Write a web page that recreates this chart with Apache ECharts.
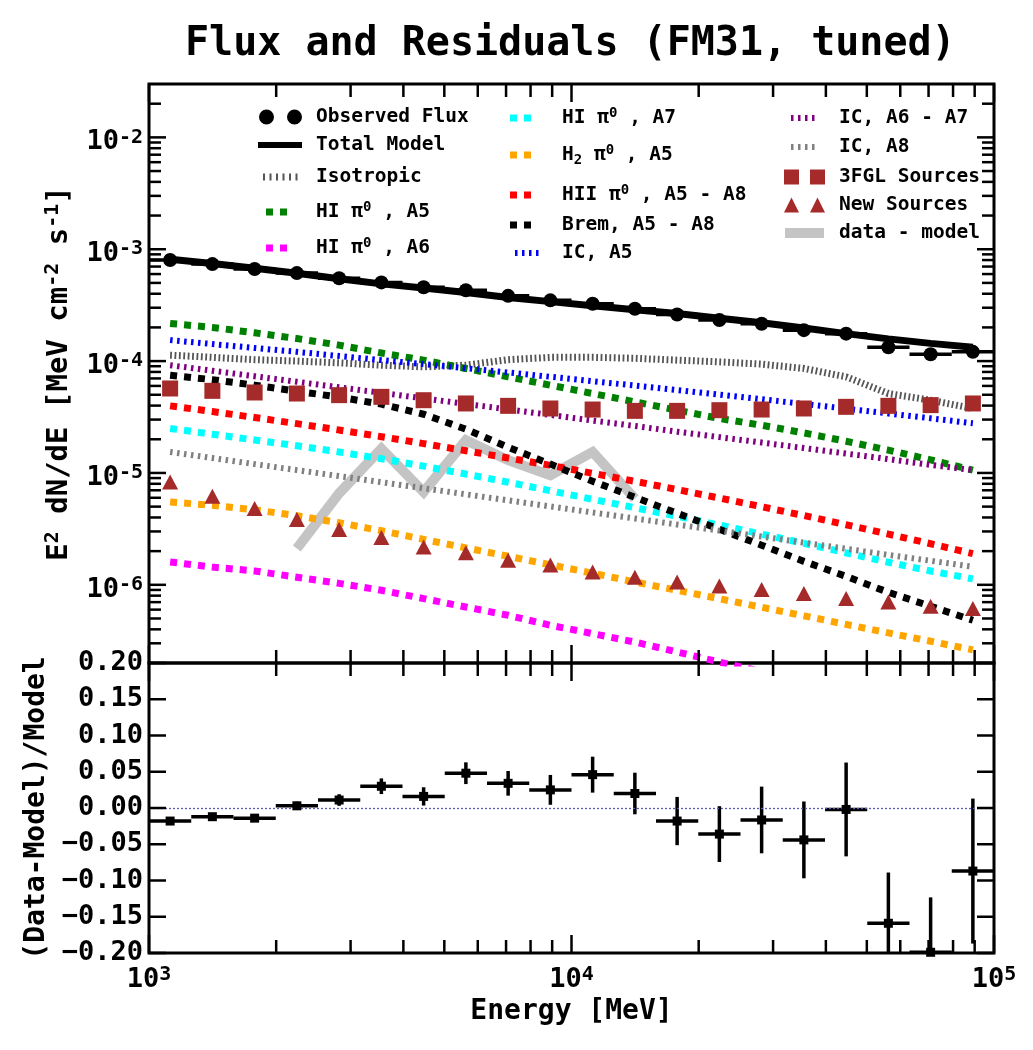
<!DOCTYPE html>
<html><head><meta charset="utf-8">
<script src="https://cdn.jsdelivr.net/npm/echarts@6/dist/echarts.min.js"></script>
<style>html,body{margin:0;padding:0;background:#fff}#c{width:1033px;height:1050px}</style>
</head><body><div id="c"></div>
<script>
// ---------------- data ----------------
const energies = [1122, 1412.5, 1778.3, 2238.7, 2818.4, 3548.1, 4466.8, 5623.4, 7079.5, 8912.5,
  11220, 14125, 17783, 22387, 28184, 35481, 44668, 56234, 70795, 89125];
const binEdges = [1000, 1258.9, 1584.9, 1995.3, 2511.9, 3162.3, 3981.1, 5011.9, 6309.6, 7943.3, 10000,
  12589, 15849, 19953, 25119, 31623, 39811, 50119, 63096, 79433, 100000];
const observedFlux = [8.00e-4, 7.36e-4, 6.66e-4, 6.12e-4, 5.51e-4, 5.05e-4, 4.57e-4, 4.30e-4, 3.83e-4, 3.49e-4,
  3.26e-4, 2.94e-4, 2.61e-4, 2.33e-4, 2.16e-4, 1.89e-4, 1.76e-4, 1.33e-4, 1.15e-4, 1.21e-4];
const observedFluxErr = [2.4e-6, 2.2e-6, 2.0e-6, 3.5e-6, 4.4e-6, 5.3e-6, 5.7e-6, 6.2e-6, 6.3e-6, 7.0e-6,
  7.7e-6, 8.3e-6, 8.9e-6, 9.3e-6, 1.0e-5, 1.05e-5, 1.14e-5, 1.1e-5, 1.09e-5, 1.33e-5];
const totalModel = [8.15e-4, 7.45e-4, 6.75e-4, 6.10e-4, 5.45e-4, 4.90e-4, 4.50e-4, 4.10e-4, 3.70e-4, 3.40e-4,
  3.12e-4, 2.88e-4, 2.66e-4, 2.42e-4, 2.20e-4, 1.98e-4, 1.76e-4, 1.58e-4, 1.44e-4, 1.33e-4];
const isotropic = [1.13e-4, 1.08e-4, 1.03e-4, 1.00e-4, 9.64e-5, 9.19e-5, 8.88e-5, 9.19e-5, 1.03e-4, 1.08e-4,
  1.08e-4, 1.06e-4, 1.02e-4, 9.84e-5, 9.39e-5, 8.59e-5, 7.23e-5, 5.13e-5, 4.47e-5, 3.77e-5];
const hiA5 = [2.17e-4, 2.00e-4, 1.79e-4, 1.59e-4, 1.39e-4, 1.18e-4, 1.02e-4, 8.59e-5, 7.23e-5, 6.09e-5,
  5.13e-5, 4.32e-5, 3.64e-5, 3.07e-5, 2.67e-5, 2.28e-5, 1.92e-5, 1.60e-5, 1.31e-5, 1.06e-5];
const hiA6 = [1.60e-6, 1.44e-6, 1.33e-6, 1.17e-6, 1.03e-6, 8.93e-7, 7.53e-7, 6.33e-7, 5.34e-7, 4.35e-7,
  3.66e-7, 3.08e-7, 2.51e-7, 2.04e-7, 1.68e-7];
const hiA7 = [2.50e-5, 2.22e-5, 1.97e-5, 1.75e-5, 1.54e-5, 1.34e-5, 1.15e-5, 9.78e-6, 8.26e-6, 6.93e-6,
  5.82e-6, 4.89e-6, 4.10e-6, 3.42e-6, 2.84e-6, 2.35e-6, 1.93e-6, 1.59e-6, 1.33e-6, 1.13e-6];
const h2A5 = [5.50e-6, 5.14e-6, 4.69e-6, 4.14e-6, 3.59e-6, 3.04e-6, 2.55e-6, 2.14e-6, 1.80e-6, 1.51e-6,
  1.27e-6, 1.06e-6, 8.93e-7, 7.50e-7, 6.30e-7, 5.28e-7, 4.43e-7, 3.72e-7, 3.13e-7, 2.62e-7];
const hiiA5A8 = [3.98e-5, 3.54e-5, 3.13e-5, 2.76e-5, 2.42e-5, 2.11e-5, 1.83e-5, 1.58e-5, 1.36e-5, 1.17e-5,
  9.93e-6, 8.42e-6, 7.11e-6, 5.97e-6, 4.99e-6, 4.16e-6, 3.44e-6, 2.84e-6, 2.33e-6, 1.90e-6];
const bremA5A8 = [7.48e-5, 6.82e-5, 6.09e-5, 5.38e-5, 4.76e-5, 4.12e-5, 3.35e-5, 2.46e-5, 1.70e-5, 1.20e-5,
  8.43e-6, 6.06e-6, 4.36e-6, 3.14e-6, 2.26e-6, 1.62e-6, 1.19e-6, 8.57e-7, 6.43e-7, 4.82e-7];
const icA5 = [1.54e-4, 1.42e-4, 1.31e-4, 1.21e-4, 1.11e-4, 1.02e-4, 9.41e-5, 8.63e-5, 7.91e-5, 7.24e-5,
  6.61e-5, 6.04e-5, 5.50e-5, 5.01e-5, 4.56e-5, 4.14e-5, 3.75e-5, 3.40e-5, 3.08e-5, 2.78e-5];
const icA6A7 = [9.19e-5, 8.20e-5, 7.32e-5, 6.53e-5, 5.83e-5, 5.20e-5, 4.64e-5, 4.14e-5, 3.70e-5, 3.30e-5,
  2.94e-5, 2.63e-5, 2.34e-5, 2.09e-5, 1.87e-5, 1.67e-5, 1.49e-5, 1.33e-5, 1.18e-5, 1.06e-5];
const icA8 = [1.54e-5, 1.36e-5, 1.20e-5, 1.06e-5, 9.37e-6, 8.27e-6, 7.30e-6, 6.44e-6, 5.69e-6, 5.02e-6,
  4.43e-6, 3.92e-6, 3.46e-6, 3.05e-6, 2.70e-6, 2.38e-6, 2.10e-6, 1.85e-6, 1.64e-6, 1.45e-6];
const fgl3Sources = [5.69e-5, 5.42e-5, 5.24e-5, 5.13e-5, 4.96e-5, 4.79e-5, 4.47e-5, 4.18e-5, 3.98e-5, 3.77e-5,
  3.69e-5, 3.59e-5, 3.59e-5, 3.64e-5, 3.69e-5, 3.77e-5, 3.90e-5, 3.98e-5, 4.04e-5, 4.18e-5];
const newSources = [8.31e-6, 6.19e-6, 4.81e-6, 3.83e-6, 3.12e-6, 2.65e-6, 2.18e-6, 1.93e-6, 1.66e-6, 1.50e-6,
  1.30e-6, 1.17e-6, 1.06e-6, 9.76e-7, 9.06e-7, 8.35e-7, 7.53e-7, 7.02e-7, 6.43e-7, 6.13e-7];
const dataMinusModelEnergies = [2238.7, 2818.4, 3548.1, 4466.8, 5623.4, 7079.5, 8912.5, 11220, 14125];
const dataMinusModel = [2.11e-6, 6.58e-6, 1.65e-5, 6.77e-6, 1.96e-5, 1.30e-5, 9.54e-6, 1.54e-5, 5.90e-6];
const residuals = [-0.018, -0.012, -0.014, 0.003, 0.011, 0.030, 0.016, 0.048, 0.034, 0.025,
  0.046, 0.020, -0.018, -0.036, -0.0165, -0.044, -0.002, -0.159, -0.199, -0.087];
const residualErr = [0.003, 0.003, 0.003, 0.0057, 0.008, 0.0108, 0.0126, 0.015, 0.017, 0.0206,
  0.0248, 0.0287, 0.0333, 0.0385, 0.046, 0.053, 0.0647, 0.070, 0.0757, 0.100];
const xMajorTicks = [1e3, 1e4, 1e5];
const xMinorTicks = [2e3, 3e3, 4e3, 5e3, 6e3, 7e3, 8e3, 9e3, 2e4, 3e4, 4e4, 5e4, 6e4, 7e4, 8e4, 9e4];
const yTopMajorTicks = [1e-6, 1e-5, 1e-4, 1e-3, 1e-2];
const yTopMinorTicks = [3e-7, 4e-7, 5e-7, 6e-7, 7e-7, 8e-7, 9e-7, 2e-6, 3e-6, 4e-6, 5e-6, 6e-6, 7e-6, 8e-6, 9e-6,
  2e-5, 3e-5, 4e-5, 5e-5, 6e-5, 7e-5, 8e-5, 9e-5, 2e-4, 3e-4, 4e-4, 5e-4, 6e-4, 7e-4, 8e-4, 9e-4,
  2e-3, 3e-3, 4e-3, 5e-3, 6e-3, 7e-3, 8e-3, 9e-3, 2e-2];
const yResidTicks = [-0.2, -0.15, -0.1, -0.05, 0, 0.05, 0.1, 0.15, 0.2];

// ---------------- chart ----------------
const FONT = '"DejaVu Sans Mono", monospace';
const chart = echarts.init(document.getElementById('c'), null, {renderer: 'canvas'});
const pairs = (xs, ys) => ys.map((y, i) => [xs[i], y]);

function powLabel(v) {
  const e = Math.log10(v);
  if (Math.abs(e - Math.round(e)) > 1e-6) return '';
  return '10{s|' + Math.round(e) + '}';
}
const supRich = (fs, lh) => ({s: {fontSize: fs, fontWeight: 'bold', fontFamily: FONT, color: '#000', verticalAlign: 'top', lineHeight: lh}});

function tickRender(params, api) {
  const cs = params.coordSys;
  const kind = api.value(2);
  const p = api.coord([api.value(0), api.value(1)]);
  const st = {stroke: '#000', lineWidth: 2.5};
  if (kind < 2) {
    const L = kind === 0 ? 18 : 13;
    const yb = cs.y + cs.height, yt = cs.y;
    return {type: 'group', children: [
      {type: 'line', shape: {x1: p[0], y1: yb, x2: p[0], y2: yb - L}, style: st},
      {type: 'line', shape: {x1: p[0], y1: yt, x2: p[0], y2: yt + L}, style: st}]};
  }
  const L = kind === 2 ? 17 : 12;
  return {type: 'group', children: [
    {type: 'line', shape: {x1: cs.x, y1: p[1], x2: cs.x + L, y2: p[1]}, style: st},
    {type: 'line', shape: {x1: cs.x + cs.width, y1: p[1], x2: cs.x + cs.width - L, y2: p[1]}, style: st}]};
}

function errRender(params, api) {
  const x = api.value(0), y = api.value(1);
  const pL = api.coord([api.value(2), y]), pH = api.coord([api.value(3), y]);
  const pB = api.coord([x, api.value(4)]), pT = api.coord([x, api.value(5)]);
  const st = {stroke: '#000', lineWidth: 3.5};
  return {type: 'group', children: [
    {type: 'line', shape: {x1: pL[0], y1: pL[1], x2: pH[0], y2: pH[1]}, style: st},
    {type: 'line', shape: {x1: pB[0], y1: pB[1], x2: pT[0], y2: pT[1]}, style: st}]};
}

function comp(name, vals, color, width, dash, z) {
  return {type: 'line', name, xAxisIndex: 0, yAxisIndex: 0, data: pairs(energies, vals), symbol: 'none',
    z, silent: true, clip: true, emphasis: {disabled: true},
    lineStyle: {color, width, type: dash, cap: 'butt', join: 'miter'}, itemStyle: {color, opacity: 1}};
}
const PI0 = [7, 7], IC = [2.5, 4.5], ISO = [1.8, 2.6];
const BROWN = '#a52a2a';

const series = [
  comp('Isotropic', isotropic, '#555555', 7, ISO, 2),
  comp('HI π0, A5', hiA5, '#008000', 7, PI0, 2),
  comp('HI π0, A6', hiA6, '#ff00ff', 7, PI0, 2),
  comp('HI π0, A7', hiA7, '#00ffff', 7, PI0, 2),
  comp('H2 π0, A5', h2A5, '#ffa500', 7, PI0, 2),
  comp('HII π0, A5 - A8', hiiA5A8, '#ff0000', 7, PI0, 2),
  comp('Brem, A5 - A8', bremA5A8, '#000000', 7, PI0, 2),
  comp('IC, A5', icA5, '#0000ff', 6, IC, 2),
  comp('IC, A6 - A7', icA6A7, '#800080', 6, IC, 2),
  comp('IC, A8', icA8, '#808080', 6, IC, 2),
  {type: 'line', name: 'data - model', xAxisIndex: 0, yAxisIndex: 0, data: pairs(dataMinusModelEnergies, dataMinusModel),
    symbol: 'none', z: 1.5, silent: true, emphasis: {disabled: true},
    lineStyle: {color: '#c4c4c4', width: 10, join: 'miter'}, itemStyle: {color: '#c4c4c4', opacity: 1}},
  {type: 'scatter', name: '3FGL Sources', xAxisIndex: 0, yAxisIndex: 0, data: pairs(energies, fgl3Sources),
    symbol: 'rect', symbolSize: [16, 16], z: 3, silent: true, itemStyle: {color: BROWN, opacity: 1}},
  {type: 'scatter', name: 'New Sources', xAxisIndex: 0, yAxisIndex: 0, data: pairs(energies, newSources),
    symbol: 'triangle', symbolSize: [16, 15], z: 3, silent: true, itemStyle: {color: BROWN, opacity: 1}},
  {type: 'line', name: 'Total Model', xAxisIndex: 0, yAxisIndex: 0, data: pairs(energies, totalModel),
    symbol: 'none', z: 4, silent: true, emphasis: {disabled: true},
    lineStyle: {color: '#000', width: 7}, itemStyle: {color: '#000', opacity: 1}},
  {type: 'custom', name: 'flux errors', xAxisIndex: 0, yAxisIndex: 0, z: 4, silent: true, clip: true,
    renderItem: errRender, encode: {x: [0, 2, 3], y: [1, 4, 5]},
    data: observedFlux.map((f, i) => [energies[i], f, binEdges[i], binEdges[i + 1], f - observedFluxErr[i], f + observedFluxErr[i]])},
  {type: 'scatter', name: 'Observed Flux', xAxisIndex: 0, yAxisIndex: 0, data: pairs(energies, observedFlux),
    symbol: 'circle', symbolSize: 14, z: 5, silent: true, itemStyle: {color: '#000', opacity: 1}},
  // residual panel
  {type: 'custom', name: 'residual errors', xAxisIndex: 1, yAxisIndex: 1, z: 4, silent: true, clip: true,
    renderItem: errRender, encode: {x: [0, 2, 3], y: [1, 4, 5]},
    data: residuals.map((r, i) => [energies[i], r, binEdges[i], binEdges[i + 1], r - residualErr[i], r + residualErr[i]])},
  {type: 'scatter', name: 'residuals', xAxisIndex: 1, yAxisIndex: 1, data: pairs(energies, residuals),
    symbol: 'rect', symbolSize: 9, z: 5, silent: true, clip: true, itemStyle: {color: '#000', opacity: 1},
    markLine: {silent: true, symbol: 'none', label: {show: false}, animation: false,
      lineStyle: {color: '#5a5ab4', type: [2, 2], width: 1.3}, data: [{yAxis: 0}]}},
  // frame ticks
  {type: 'custom', name: 'ticksTop', xAxisIndex: 0, yAxisIndex: 0, z: 10, silent: true, clip: false,
    renderItem: tickRender, encode: {x: 0, y: 1},
    data: [].concat(xMajorTicks.map(v => [v, 1e-4, 0]), xMinorTicks.map(v => [v, 1e-4, 1]),
      yTopMajorTicks.map(v => [1e4, v, 2]), yTopMinorTicks.map(v => [1e4, v, 3]))},
  {type: 'custom', name: 'ticksBottom', xAxisIndex: 1, yAxisIndex: 1, z: 10, silent: true, clip: false,
    renderItem: tickRender, encode: {x: 0, y: 1},
    data: [].concat(xMajorTicks.map(v => [v, 0, 0]), xMinorTicks.map(v => [v, 0, 1]),
      yResidTicks.map(v => [1e4, v, 2]))}
];

// legend (one small legend per entry, laid out like the original's three columns)
const ICONS = {
  circles: 'path://M0,7.5a7.5,7.5 0 1,0 15,0a7.5,7.5 0 1,0 -15,0zM28,7.5a7.5,7.5 0 1,0 15,0a7.5,7.5 0 1,0 -15,0z',
  bar: 'path://M0,0h44v6h-44z',
  iso: 'path://M0,0h2v7h-2zM6.5,0h2v7h-2zM13,0h2v7h-2zM19.5,0h2v7h-2zM26,0h2v7h-2zM32.5,0h2v7h-2z',
  pi0: 'path://M0,0h7v7h-7zM14,0h7v7h-7z',
  ic: 'path://M0,0h2.5v6h-2.5zM7,0h2.5v6h-2.5zM14,0h2.5v6h-2.5zM21,0h2.5v6h-2.5z',
  squares: 'path://M0,0h15v15h-15zM26,0h15v15h-15z',
  tris: 'path://M0,15L7.5,0L15,15zM26,15L33.5,0L41,15z',
  band: 'path://M0,0h39v10h-39z'
};
const legendItems = [
  ['Observed Flux', 'circles', 43, 15, 259, 117, 316],
  ['Total Model', 'bar', 44, 6, 258, 145, 316],
  ['Isotropic', 'iso', 34.5, 7, 263, 177, 316],
  ['HI π0, A5', 'pi0', 21, 7, 266, 212, 316],
  ['HI π0, A6', 'pi0', 21, 7, 266, 248, 316],
  ['HI π0, A7', 'pi0', 21, 7, 510, 118, 562],
  ['H2 π0, A5', 'pi0', 21, 7, 510, 155, 562],
  ['HII π0, A5 - A8', 'pi0', 21, 7, 510, 195, 562],
  ['Brem, A5 - A8', 'pi0', 21, 7, 510, 225, 562],
  ['IC, A5', 'ic', 23.5, 6, 515, 253, 562],
  ['IC, A6 - A7', 'ic', 23.5, 6, 791, 118, 839],
  ['IC, A8', 'ic', 23.5, 6, 791, 147, 839],
  ['3FGL Sources', 'squares', 41, 15, 784, 177, 839],
  ['New Sources', 'tris', 41, 15, 784, 205, 839],
  ['data - model', 'band', 39, 10, 785, 233, 839]
];
const legendLabels = {
  'HI π0, A5': 'HI π{sup|0} , A5', 'HI π0, A6': 'HI π{sup|0} , A6', 'HI π0, A7': 'HI π{sup|0} , A7',
  'H2 π0, A5': 'H{sub|2} π{sup|0} , A5', 'HII π0, A5 - A8': 'HII π{sup|0} , A5 - A8'
};
const LH = 24;
const legends = legendItems.map(([name, icon, w, h, left, cy, textX]) => ({
  data: [{name, icon: ICONS[icon]}], left, top: cy - LH / 2, padding: 0, itemWidth: w, itemHeight: h,
  selectedMode: false, itemStyle: {borderWidth: 0, opacity: 1},
  formatter: n => legendLabels[n] || n,
  textStyle: {fontFamily: FONT, fontWeight: 'bold', fontSize: 19.5, color: '#000', lineHeight: LH,
    padding: [0, 0, 0, textX - (left + w + 5)],
    rich: {
      sup: {fontFamily: FONT, fontWeight: 'bold', fontSize: 14, color: '#000', verticalAlign: 'top', lineHeight: 2},
      sub: {fontFamily: FONT, fontWeight: 'bold', fontSize: 14, color: '#000', verticalAlign: 'bottom', lineHeight: 10}
    }}
}));

const axisCommon = {axisLine: {show: false}, axisTick: {show: false}, splitLine: {show: false}, minorTick: {show: false}};
const option = {
  animation: false,
  backgroundColor: '#ffffff',
  title: {text: 'Flux and Residuals (FM31, tuned)', left: 180, top: 20,
    textStyle: {fontFamily: FONT, fontWeight: 'bold', fontSize: 40, color: '#000'}},
  grid: [
    {left: 149, top: 84, width: 845, height: 579, show: true, borderColor: '#000', borderWidth: 3, backgroundColor: 'transparent'},
    {left: 149, top: 663, width: 845, height: 290, show: true, borderColor: '#000', borderWidth: 3, backgroundColor: 'transparent'}
  ],
  xAxis: [
    Object.assign({type: 'log', logBase: 10, gridIndex: 0, min: 1000, max: 100000, axisLabel: {show: false}}, axisCommon),
    Object.assign({type: 'log', logBase: 10, gridIndex: 1, min: 1000, max: 100000,
      axisLabel: {margin: 12, fontFamily: FONT, fontWeight: 'bold', fontSize: 27, color: '#000', formatter: powLabel,
        showMinLabel: true, showMaxLabel: true, lineHeight: 30, rich: supRich(20, 2)},
      name: 'Energy [MeV]', nameLocation: 'middle', nameGap: 45,
      nameTextStyle: {fontFamily: FONT, fontWeight: 'bold', fontSize: 28, color: '#000'}}, axisCommon)
  ],
  yAxis: [
    Object.assign({type: 'log', logBase: 10, gridIndex: 0, min: 2e-7, max: 3e-2,
      axisLabel: {margin: 6, fontFamily: FONT, fontWeight: 'bold', fontSize: 27, color: '#000', formatter: powLabel,
        lineHeight: 30, padding: [10, 0, 0, 0], rich: supRich(20, 2)},
      name: 'E{s|2} dN/dE [MeV cm{s|-2} s{s|-1}]', nameLocation: 'middle', nameGap: 74, nameRotate: 90,
      nameTextStyle: {fontFamily: FONT, fontWeight: 'bold', fontSize: 29, color: '#000', lineHeight: 32, rich: supRich(20, 2)}}, axisCommon),
    Object.assign({type: 'value', gridIndex: 1, min: -0.2, max: 0.2, interval: 0.05,
      axisLabel: {margin: 6, fontFamily: FONT, fontWeight: 'bold', fontSize: 27, color: '#000',
        showMinLabel: true, showMaxLabel: true,
        formatter: v => (v < -1e-9 ? '\u2212' : '') + Math.abs(v).toFixed(2)},
      name: '(Data-Model)/Model', nameLocation: 'middle', nameGap: 95, nameRotate: 90,
      nameTextStyle: {fontFamily: FONT, fontWeight: 'bold', fontSize: 28, color: '#000'}}, axisCommon)
  ],
  legend: legends,
  series
};
chart.setOption(option);
</script>
</body></html>
